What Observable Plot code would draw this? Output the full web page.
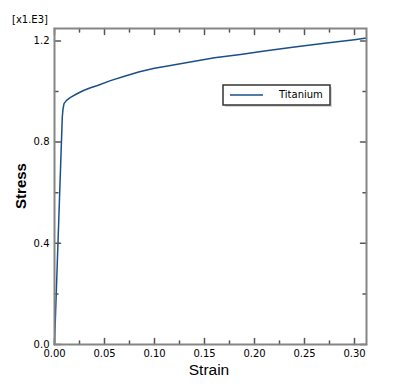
<!DOCTYPE html>
<html><head><meta charset="utf-8">
<script src="https://cdn.jsdelivr.net/npm/d3@7"></script>
<script src="https://cdn.jsdelivr.net/npm/@observablehq/plot@0.6"></script>
<style>body{margin:0;background:#fff}</style>
</head><body><div id="chart"></div>
<script>
const strain = [0, 0.0078, 0.0085, 0.0095, 0.012, 0.016, 0.022, 0.029, 0.036, 0.043, 0.056, 0.07, 0.085, 0.1, 0.116, 0.14, 0.16, 0.186, 0.21, 0.24, 0.27, 0.30, 0.312];
const stress = [0, 0.90, 0.93, 0.952, 0.965, 0.977, 0.99, 1.004, 1.015, 1.024, 1.043, 1.06, 1.078, 1.092, 1.103, 1.12, 1.133, 1.146, 1.16, 1.176, 1.191, 1.205, 1.211];
const xMajor = [0, 0.05, 0.10, 0.15, 0.20, 0.25, 0.30];
const xMinor = [0.025, 0.075, 0.125, 0.175, 0.225, 0.275];
const yMajor = [0, 0.4, 0.8, 1.2];
const yMinor = [0.2, 0.6, 1.0];
const xLabels = ["0.00", "0.05", "0.10", "0.15", "0.20", "0.25", "0.30"];
const yLabels = ["0.0", "0.4", "0.8", "1.2"];
const seriesName = "Titanium";
const xTitle = "Strain", yTitle = "Stress", yMultiplier = "[x1.E3]";

const data = strain.map((x, i) => ({strain: x, stress: stress[i]}));
const lineColor = "#1b4f8a";
const tickColor = "#555";
const tickShape = {draw(ctx, l) { ctx.moveTo(0, 0); ctx.lineTo(0, -l); }};
const tk = (len, extra) => ({length: len, anchor: "start", shape: tickShape, stroke: tickColor, strokeWidth: 1.5, ...extra});

const plot = Plot.plot({
  width: 393, height: 389,
  marginLeft: 54, marginRight: 27, marginTop: 28, marginBottom: 45,
  style: {fontFamily: "DejaVu Sans", fontSize: "10px", background: "white", color: "black"},
  x: {domain: [0, 0.312]},
  y: {domain: [0, 1.249]},
  marks: [
    Plot.line(data, {x: "strain", y: "stress", stroke: lineColor, strokeWidth: 1.5}),
    Plot.vectorX(xMajor, tk(6, {x: d => d, frameAnchor: "bottom", rotate: 0})),
    Plot.vectorX(xMinor, tk(3.5, {x: d => d, frameAnchor: "bottom", rotate: 0})),
    Plot.vectorX(xMajor, tk(6, {x: d => d, frameAnchor: "top", rotate: 180})),
    Plot.vectorX(xMinor, tk(3.5, {x: d => d, frameAnchor: "top", rotate: 180})),
    Plot.vectorY(yMajor, tk(6, {y: d => d, frameAnchor: "left", rotate: 90})),
    Plot.vectorY(yMinor, tk(3.5, {y: d => d, frameAnchor: "left", rotate: 90})),
    Plot.vectorY(yMajor, tk(6, {y: d => d, frameAnchor: "right", rotate: -90})),
    Plot.vectorY(yMinor, tk(3.5, {y: d => d, frameAnchor: "right", rotate: -90})),
    Plot.axisX({ticks: xMajor, tickFormat: d => xLabels[xMajor.indexOf(d)], tickSize: 0, tickPadding: 5, label: null}),
    Plot.axisY({ticks: yMajor, tickFormat: d => yLabels[yMajor.indexOf(d)], tickSize: 0, tickPadding: 5, label: null}),
    Plot.frame({stroke: "#858585", strokeWidth: 2})
  ]
});

const svg = d3.select(plot);
svg.append("text").attr("x", 12).attr("y", 20).attr("dominant-baseline", "middle").attr("text-anchor", "start")
  .attr("font-family", "DejaVu Sans").attr("font-size", 10).text(yMultiplier);
svg.append("text").attr("x", 209).attr("y", 375).attr("text-anchor", "middle")
  .attr("font-family", "Liberation Sans").attr("font-size", 15.5).text(xTitle);
svg.append("text").attr("transform", "translate(26,186) rotate(-90)").attr("text-anchor", "middle")
  .attr("font-family", "Liberation Sans").attr("font-weight", "bold").attr("font-size", 15).text(yTitle);
const lg = svg.append("g");
lg.append("rect").attr("x", 225).attr("y", 87).attr("width", 107).attr("height", 20).attr("fill", "#d8d8d8");
lg.append("rect").attr("x", 223).attr("y", 85).attr("width", 107).attr("height", 20).attr("fill", "white").attr("stroke", "#333").attr("stroke-width", 1.5);
lg.append("line").attr("x1", 230).attr("x2", 263).attr("y1", 95).attr("y2", 95).attr("stroke", lineColor).attr("stroke-width", 1.5);
lg.append("text").attr("x", 279).attr("y", 95).attr("dominant-baseline", "middle").attr("text-anchor", "start")
  .attr("font-family", "DejaVu Sans").attr("font-size", 10).text(seriesName);

document.getElementById("chart").append(plot);
</script>
</body></html>
